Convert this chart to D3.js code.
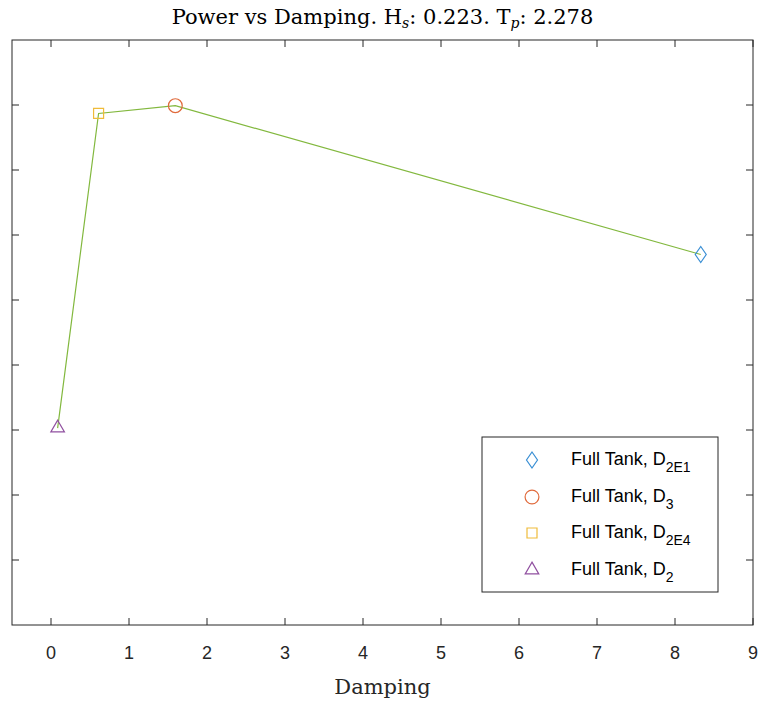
<!DOCTYPE html>
<html>
<head>
<meta charset="utf-8">
<script src="https://cdn.jsdelivr.net/npm/d3@7"></script>
<style>
  body { margin: 0; background: #fff; }
</style>
</head>
<body>
<div id="chart"></div>
<script>
// data
var seriesNames = ["Full Tank, D", "Full Tank, D", "Full Tank, D", "Full Tank, D"];
var seriesSubs = ["2E1", "3", "2E4", "2"];
var damping = [8.33, 1.594, 0.61, 0.085];
var power = [5.70, 7.99, 7.87, 3.03];
var markerTypes = ["diamond", "circle", "square", "triangle"];
var markerColors = ["#3a8fd4", "#e06a3c", "#efbb3a", "#9050a0"];
var xTicks = [0, 1, 2, 3, 4, 5, 6, 7, 8, 9];
var yTicks = [1, 2, 3, 4, 5, 6, 7, 8];

var width = 761, height = 702;
var plotLeft = 12, plotRight = 753, plotTop = 40, plotBottom = 625;

var svg = d3.select("#chart").append("svg")
  .attr("width", width)
  .attr("height", height);

var x = d3.scaleLinear().domain([-0.5, 9]).range([plotLeft, plotRight]);
var y = d3.scaleLinear().domain([0, 9]).range([plotBottom, plotTop]);

// axes box
svg.append("rect")
  .attr("x", plotLeft).attr("y", plotTop)
  .attr("width", plotRight - plotLeft).attr("height", plotBottom - plotTop)
  .attr("fill", "#fff")
  .attr("stroke", "#262626")
  .attr("stroke-width", 1);

// x ticks, bottom and top (inside)
svg.append("g").selectAll("line")
  .data(xTicks).enter().append("line")
  .attr("x1", d => x(d)).attr("x2", d => x(d))
  .attr("y1", plotBottom).attr("y2", plotBottom - 7)
  .attr("stroke", "#262626");
svg.append("g").selectAll("line")
  .data(xTicks).enter().append("line")
  .attr("x1", d => x(d)).attr("x2", d => x(d))
  .attr("y1", plotTop).attr("y2", plotTop + 7)
  .attr("stroke", "#262626");

// y ticks (no labels)
svg.append("g").selectAll("line")
  .data(yTicks).enter().append("line")
  .attr("x1", plotLeft).attr("x2", plotLeft + 7)
  .attr("y1", d => y(d)).attr("y2", d => y(d))
  .attr("stroke", "#262626");
svg.append("g").selectAll("line")
  .data(yTicks).enter().append("line")
  .attr("x1", plotRight).attr("x2", plotRight - 7)
  .attr("y1", d => y(d)).attr("y2", d => y(d))
  .attr("stroke", "#262626");

// tick labels
svg.append("g").selectAll("text")
  .data(xTicks).enter().append("text")
  .attr("x", d => x(d))
  .attr("y", 659)
  .attr("text-anchor", "middle")
  .attr("font-family", "Liberation Sans, Arial, sans-serif")
  .attr("font-size", "18px")
  .attr("fill", "#262626")
  .text(d => d);

// x label
svg.append("text")
  .attr("x", (plotLeft + plotRight) / 2)
  .attr("y", 694)
  .attr("text-anchor", "middle")
  .attr("font-family", "DejaVu Serif, serif")
  .attr("font-size", "21px")
  .attr("fill", "#262626")
  .text("Damping");

// title
var title = svg.append("text")
  .attr("x", (plotLeft + plotRight) / 2)
  .attr("y", 24)
  .attr("text-anchor", "middle")
  .attr("font-family", "DejaVu Serif, serif")
  .attr("font-size", "21px")
  .attr("fill", "#000");
title.append("tspan").text("Power vs Damping. H");
title.append("tspan").attr("font-size", "14px").attr("font-style", "italic").attr("dy", 4).text("s");
title.append("tspan").attr("dy", -4).text(": 0.223. T");
title.append("tspan").attr("font-size", "14px").attr("font-style", "italic").attr("dy", 4).text("p");
title.append("tspan").attr("dy", -4).text(": 2.278");

// line through the points, ordered by damping
var pts = damping.map((d, i) => ({ x: d, y: power[i] }))
  .sort((a, b) => a.x - b.x);
var line = d3.line().x(d => x(d.x)).y(d => y(d.y));
svg.append("path")
  .datum(pts)
  .attr("d", line)
  .attr("fill", "none")
  .attr("stroke", "#82b83e")
  .attr("stroke-width", 1.2);

function markerPath(type) {
  if (type === "diamond") return "M0,-8L5.5,0L0,8L-5.5,0Z";
  if (type === "circle") return d3.symbol(d3.symbolCircle, 150)();
  if (type === "square") return d3.symbol(d3.symbolSquare, 100)();
  return d3.symbol(d3.symbolTriangle, 80)();
}

// markers
svg.append("g").selectAll("path")
  .data(damping).enter().append("path")
  .attr("d", (d, i) => markerPath(markerTypes[i]))
  .attr("transform", (d, i) => "translate(" + x(d) + "," + y(power[i]) + ")")
  .attr("fill", "none")
  .attr("stroke", (d, i) => markerColors[i])
  .attr("stroke-width", 1.2);

// legend
var legend = svg.append("g");
legend.append("rect")
  .attr("x", 482).attr("y", 437)
  .attr("width", 236).attr("height", 155)
  .attr("fill", "#fff")
  .attr("stroke", "#262626")
  .attr("stroke-width", 1);

var rowY = [460, 497, 533, 570];
seriesNames.forEach(function (name, i) {
  legend.append("path")
    .attr("d", markerPath(markerTypes[i]))
    .attr("transform", "translate(532," + rowY[i] + ")")
    .attr("fill", "none")
    .attr("stroke", markerColors[i])
    .attr("stroke-width", 1.2);
  var t = legend.append("text")
    .attr("x", 571)
    .attr("y", rowY[i] + 5)
    .attr("font-family", "Liberation Sans, Arial, sans-serif")
    .attr("font-size", "18px")
    .attr("fill", "#000");
  t.append("tspan").text(name);
  t.append("tspan").attr("font-size", "14px").attr("dy", 7).text(seriesSubs[i]);
});
</script>
</body>
</html>
